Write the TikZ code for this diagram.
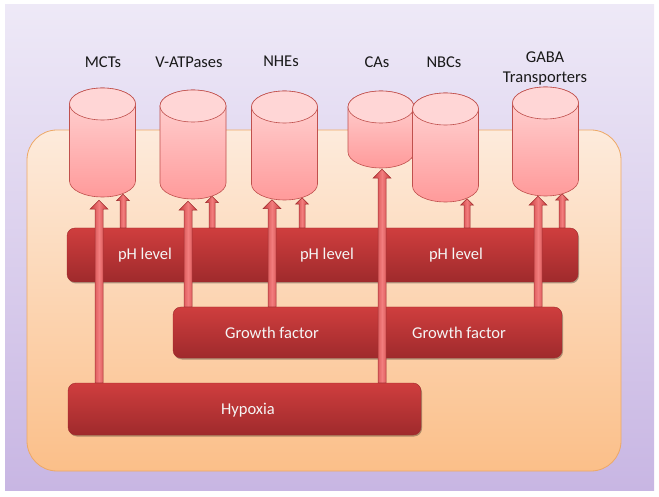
\documentclass[tikz,border=0pt]{standalone}
\usepackage{fontspec}
\setmainfont{Carlito}
\usetikzlibrary{calc,shadows}
\pgfdeclarelayer{bg}
\pgfdeclarelayer{bars}
\pgfdeclarelayer{arr}
\pgfsetlayers{bg,bars,arr,main}
\definecolor{bgtop}{HTML}{EEE9F7}
\definecolor{bgbot}{HTML}{C8B6E3}
\definecolor{ortop}{HTML}{FDEBDC}
\definecolor{orbot}{HTML}{FBBF89}
\definecolor{orline}{HTML}{EDA866}
\definecolor{bartop}{HTML}{CF3E3E}
\definecolor{barbot}{HTML}{9F2A2C}
\definecolor{cyltop}{HTML}{FFD6D6}
\definecolor{cylbot}{HTML}{FF9A9A}
\definecolor{cylline}{HTML}{C0504D}
\definecolor{arredge}{HTML}{C83A3C}
\definecolor{arrmid}{HTML}{F27E7E}
\tikzset{
  cellbox/.style={rectangle, rounded corners=30pt, draw=orline, line width=0.8pt,
    top color=ortop, bottom color=orbot, inner sep=0},
  bar/.style={rectangle, rounded corners=8pt, top color=bartop, bottom color=barbot,
    draw=barbot, line width=0.4pt, inner sep=0,
    drop shadow={shadow xshift=1pt, shadow yshift=-1.5pt, opacity=0.3, fill=black}},
  bartext/.style={text=white!96!black, font=\fontsize{16.5}{19}\selectfont, inner sep=1pt},
  lab/.style={text=black!90, font=\fontsize{16.5}{20}\selectfont, align=center, inner sep=1pt},
  cylanchor/.style={rectangle, inner sep=0, minimum width=66pt},
  cylbody/.style={top color=cyltop, bottom color=cylbot, draw=cylline, line width=0.6pt},
  cylend/.style={fill=cyltop, draw=cylline, line width=0.6pt},
  arrowshade/.style={left color=arredge, right color=arredge, middle color=arrmid,
    draw=arredge!80!black, line width=0.5pt},
}
% #1 name, #2 centre x, #3 top y, #4 bottom y
\newcommand{\drawcyl}[4]{%
  \pgfmathsetmacro\cyc{#3-16}%
  \pgfmathsetmacro\cyb{#4+16}%
  \pgfmathsetmacro\cyh{#3-#4}%
  \pgfmathsetmacro\cym{(#3+#4)/2}%
  \path[cylbody] (#2-33,\cyc) -- (#2-33,\cyb)
    arc[start angle=180, end angle=360, x radius=33, y radius=16]
    -- (#2+33,\cyc) arc[start angle=0, end angle=180, x radius=33, y radius=16] -- cycle;
  \path[cylend] (#2,\cyc) ellipse[x radius=33, y radius=16];
  \node[cylanchor, minimum height=\cyh pt] (#1) at (#2,\cym) {};
}
% #1 bar anchor, #2 cylinder node, #3 dx, #4 dy, #5 half shaft, #6 half head, #7 head length
\newcommand{\uparr}[7]{%
  \path[arrowshade] let \p1=($(#2.south)+(#3,#4)$), \p2=(#1) in
    (\x1-#5,\y2) -- (\x1-#5,\y1-#7) -- (\x1-#6,\y1-#7) -- (\x1,\y1)
    -- (\x1+#6,\y1-#7) -- (\x1+#5,\y1-#7) -- (\x1+#5,\y2) -- cycle;
}
\newcommand{\thickarr}[4]{\uparr{#1}{#2}{#3}{#4}{4pt}{9pt}{9pt}}
\newcommand{\thinarr}[4]{\uparr{#1}{#2}{#3}{#4}{3pt}{6.5pt}{6.5pt}}
\begin{document}
\begin{tikzpicture}[x=1pt,y=1pt]
\useasboundingbox (0,0) rectangle (659,496);
\begin{pgfonlayer}{bg}
  \fill[top color=bgtop, bottom color=bgbot] (5,6) rectangle (654,491);
  \node[cellbox, minimum width=594pt, minimum height=341pt] (cell) at (324,195.5) {};
\end{pgfonlayer}
\begin{pgfonlayer}{bars}
  \node[bar, minimum width=511pt, minimum height=54pt] (ph) at (322.5,241) {};
  \node[bar, minimum width=389pt, minimum height=51pt] (gf) at (367.5,163.5) {};
  \node[bar, minimum width=353pt, minimum height=52pt] (hyp) at (244.5,87) {};
\end{pgfonlayer}
% cylinders
\drawcyl{mct}{102.5}{408}{299}
\drawcyl{vat}{193}{406}{297}
\drawcyl{nhe}{284.5}{405}{296}
\drawcyl{cas}{381}{405}{328}
\drawcyl{nbc}{445.5}{403}{294}
\drawcyl{gaba}{545.5}{409}{300}
% arrows
\begin{pgfonlayer}{arr}
  \thickarr{hyp.north}{mct}{-3.5}{-3}
  \thinarr{ph.north}{mct}{20.5}{3}
  \thickarr{gf.north}{vat}{-5}{-2}
  \thinarr{ph.north}{vat}{19}{3}
  \thickarr{gf.north}{nhe}{-12.5}{0.5}
  \thinarr{ph.north}{nhe}{17.5}{2.5}
  \thickarr{hyp.north}{cas}{1}{-1}
  \thinarr{ph.north}{nbc}{21.5}{3.5}
  \thickarr{gf.north}{gaba}{-7.5}{0}
  \thinarr{ph.north}{gaba}{16.5}{2.5}
\end{pgfonlayer}
% labels
\node[lab] (lmct) at (103,434) {MCTs};
\node[lab] (lvat) at (189,434) {V-ATPases};
\node[lab] (lnhe) at (281,435) {NHEs};
\node[lab] (lcas) at (377,434) {CAs};
\node[lab] (lnbc) at (444,434) {NBCs};
\node[lab] (lgaba) at (545,428) {GABA\\Transporters};
% bar texts
\node[bartext] (ph1) at (145,241) {pH level};
\node[bartext] (ph2) at (327,241) {pH level};
\node[bartext] (ph3) at (456,241) {pH level};
\node[bartext] (gf1) at (272,163.5) {Growth factor};
\node[bartext] (gf2) at (459,163.5) {Growth factor};
\node[bartext] (hyt) at (248,86) {Hypoxia};
\end{tikzpicture}
\end{document}
